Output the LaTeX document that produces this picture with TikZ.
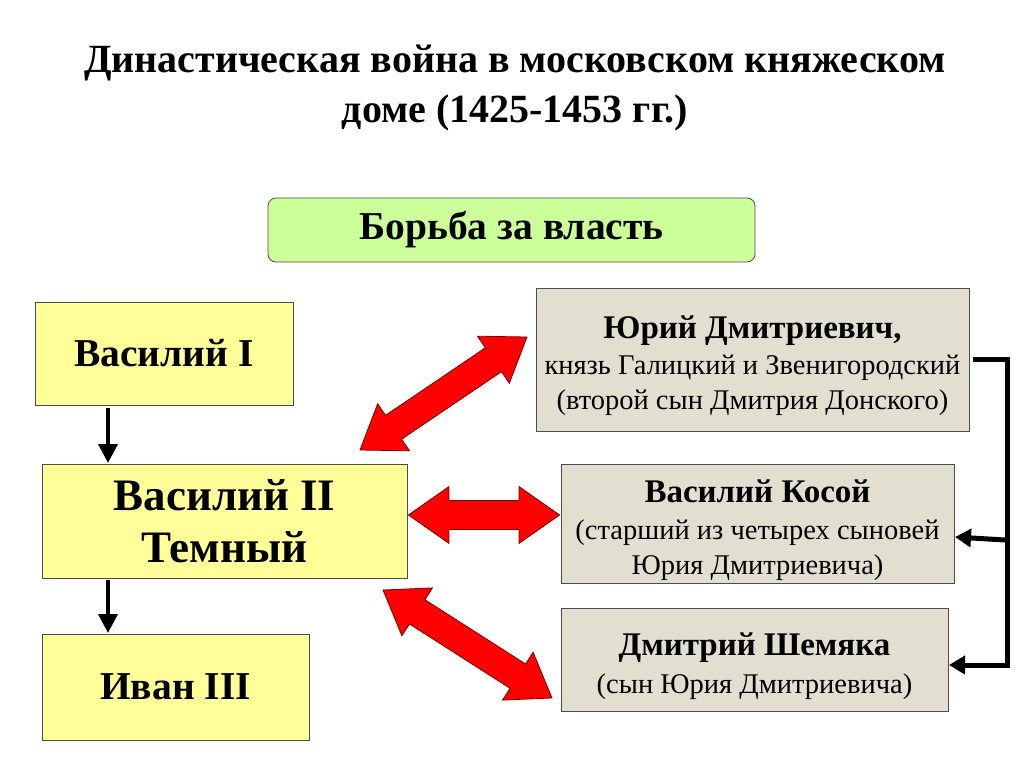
\documentclass[tikz,border=0pt]{standalone}
\usepackage{fontspec}
\setmainfont{Liberation Serif}
\usetikzlibrary{shapes.arrows,arrows.meta,calc}
\definecolor{yfill}{HTML}{FFFF99}
\definecolor{gfill}{HTML}{CCFF99}
\definecolor{bfill}{HTML}{E2DED0}
\definecolor{arrred}{HTML}{FF0000}
\definecolor{arredge}{HTML}{7A0000}
\newcommand\redarrow[2]{%
  \path let \p1=(#1), \p2=(#2), \n1={atan2(\y2-\y1,\x2-\x1)}, \n2={veclen(\x2-\x1,\y2-\y1)} in
    node[redarr, rotate=\n1, minimum height=\n2] at ($(#1)!0.5!(#2)$) {};}
\newcommand\boldline[1]{{\fontsize{33}{35}\selectfont\bfseries #1}}
\begin{document}
\begin{tikzpicture}[x=1pt,y=-1pt,
  box/.style={draw=black!70, line width=0.8pt, inner sep=0pt, align=center},
  ybox/.style={box, fill=yfill},
  bbox/.style={box, fill=bfill},
  btext/.style={inner sep=0pt, align=center, font=\fontsize{28.5}{35}\selectfont},
  redarr/.style={double arrow, fill=arrred, draw=arredge, line width=0.8pt,
    inner xsep=0pt, inner ysep=14pt, double arrow head extend=14pt, double arrow tip angle=70},
  down/.style={line width=4pt, -{Triangle[length=19pt,width=19pt]}},
  bline/.style={line width=5pt},
  barr/.style={line width=5pt, -{Triangle[length=16pt,width=18pt]}},
  bigb/.style={font=\fontsize{39.5}{46}\selectfont\bfseries},
]
\useasboundingbox[fill=white] (0,0) rectangle (1024,767);

\node[font=\fontsize{40}{50}\selectfont\bfseries, align=center] (title) at (515,88)
  {Династическая война в московском княжеском\\доме (1425-1453 гг.)};

\node[box, fill=gfill, rounded corners=8pt, minimum width=487pt, minimum height=64pt, bigb] (fight) at (511.5,230) {Борьба за власть};

\node[ybox, minimum width=258pt, minimum height=103pt, bigb] (v1) at (164,353.5) {Василий I};
\node[ybox, minimum width=365pt, minimum height=114pt, font=\fontsize{45}{52}\selectfont\bfseries] (v2) at (224.5,521) {Василий II\\Темный};
\node[ybox, minimum width=267pt, minimum height=106pt, bigb] (iv) at (175.5,687) {Иван III};

\node[bbox, minimum width=433pt, minimum height=143pt] (yuri) at (752.5,359.5) {};
\node[btext] (yuritxt) at ([yshift=-6.5pt]yuri.center)
  {\boldline{Юрий Дмитриевич,}\\[1pt]
   князь Галицкий и Звенигородский\\
   (второй сын Дмитрия Донского)};
\node[bbox, minimum width=393pt, minimum height=119pt] (kosoy) at (757.5,523.5) {};
\node[btext] (kosoytxt) at ([yshift=-7pt]kosoy.center)
  {\boldline{Василий Косой}\\[2pt]
   (старший из четырех сыновей\\
   Юрия Дмитриевича)};
\node[bbox, minimum width=387pt, minimum height=103pt] (shem) at (754.5,659.5) {};
\node[btext] (shemtxt) at ([yshift=-6.5pt]shem.center)
  {\boldline{Дмитрий Шемяка}\\[3pt]
   (сын Юрия Дмитриевича)};

% down arrows
\coordinate (d1s) at (108,408);
\coordinate (d1e) at (108,463);
\coordinate (d2s) at (108,580);
\coordinate (d2e) at (108,633);
\draw[down] (d1s) -- (d1e);
\draw[down] (d2s) -- (d2e);

% red double arrows
\coordinate (a1s) at (360,450);
\coordinate (a1e) at (527,337);
\coordinate (a2s) at ($(v2.east)+(1,-6)$);
\coordinate (a2e) at ($(kosoy.west)+(-1,-8.5)$);
\coordinate (a3s) at (383,590);
\coordinate (a3e) at (552,698);
\redarrow{a1s}{a1e}
\redarrow{a2s}{a2e}
\redarrow{a3s}{a3e}

% bracket
\coordinate (bt) at (1007,359);
\coordinate (bb) at (1007,665);
\coordinate (bm) at (1005,540);
\draw[bline] (973,359) -- (bt) -- ([yshift=2.5pt]bb);
\draw[barr] ([xshift=2.5pt]bb) -- (949,665);
\draw[barr] (bm) -- (955,537);
\end{tikzpicture}
\end{document}
